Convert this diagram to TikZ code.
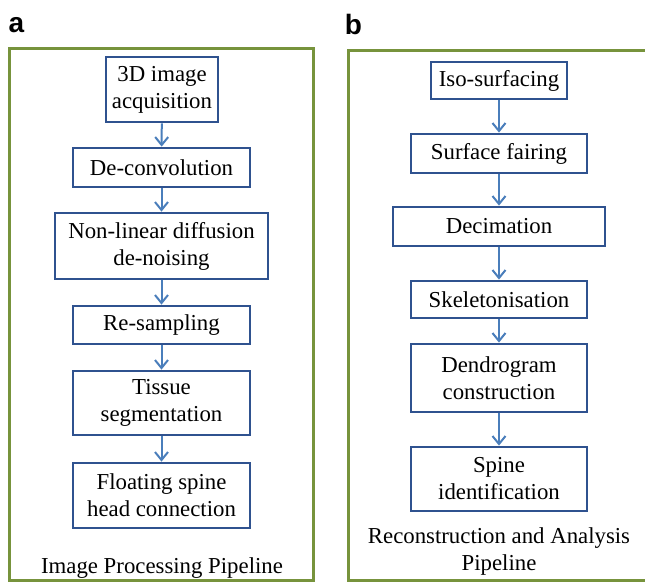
\documentclass[tikz,border=0pt]{standalone}
\usepackage{fontspec}
\setmainfont{Liberation Serif}
\newfontfamily\labfont{Liberation Sans}
\newfontfamily\serifbox{Liberation Serif}
\usetikzlibrary{arrows.meta}
\definecolor{framegreen}{HTML}{77933C}
\definecolor{boxblue}{HTML}{2F528F}
\definecolor{arrowblue}{HTML}{4A7EBB}
\tikzset{
  stepbox/.style={draw=boxblue, line width=2.8pt, align=center,
    inner sep=0pt, font=\serifbox\fontsize{22.8}{27}\selectfont},
  flow/.style={draw=arrowblue, line width=2pt, -{Straight Barb[length=8pt,width=13pt,line width=2pt]}},
  panelframe/.style={draw=framegreen, line width=3pt},
  caption/.style={align=center, inner sep=0pt, font=\serifbox\fontsize{22.8}{27}\selectfont},
  panellabel/.style={inner sep=0pt, font=\labfont\bfseries\fontsize{28}{30}\selectfont}
}
\begin{document}
\begin{tikzpicture}[x=1pt,y=-1pt]
\useasboundingbox (0,0) rectangle (645,581);
\fill[white] (0,0) rectangle (645,581);
\begin{scope}
\clip (0,0) rectangle (645,581);
\draw[panelframe] (9,48) rectangle (313,580);
\draw[panelframe] (348,50) rectangle (660,580);
\end{scope}
% panel labels
\node[panellabel] (la) at (16.5,25.5) {a};
\node[panellabel] (lb) at (353.5,24) {b};
% left pipeline
\node[stepbox, minimum width=112pt, minimum height=65pt] (a1) at (162,89.5) {3D image\\acquisition};
\node[stepbox, minimum width=177pt, minimum height=39pt] (a2) at (161.5,167.5) {De-convolution};
\node[stepbox, minimum width=213pt, minimum height=66pt] (a3) at (161.5,246) {Non-linear diffusion\\de-noising};
\node[stepbox, minimum width=177pt, minimum height=38pt] (a4) at (161.5,325) {Re-sampling};
\node[stepbox, minimum width=177pt, minimum height=64pt] (a5) at (161.5,403) {Tissue\\segmentation};
\node[stepbox, minimum width=177pt, minimum height=65pt] (a6) at (161.5,495.5) {Floating spine\\head connection};
\node[caption] (ca) at (162,568) {Image Processing Pipeline};
\draw[flow] (a1) -- (a2);
\draw[flow] (a2) -- (a3);
\draw[flow] (a3) -- (a4);
\draw[flow] (a4) -- (a5);
\draw[flow] (a5) -- (a6);
% right pipeline
\node[stepbox, minimum width=136pt, minimum height=37pt] (b1) at (499,80.5) {Iso-surfacing};
\node[stepbox, minimum width=176pt, minimum height=39pt] (b2) at (499,153.5) {Surface fairing};
\node[stepbox, minimum width=212pt, minimum height=39pt] (b3) at (499,226.5) {Decimation};
\node[stepbox, minimum width=176pt, minimum height=37pt] (b4) at (499,299.5) {Skeletonisation};
\node[stepbox, minimum width=176pt, minimum height=68pt] (b5) at (499,378) {Dendrogram\\construction};
\node[stepbox, minimum width=176pt, minimum height=64pt] (b6) at (499,479) {Spine\\identification};
\node[caption] (cb) at (499,551.5) {Reconstruction and Analysis\\Pipeline};
\draw[flow] (b1) -- (b2);
\draw[flow] (b2) -- (b3);
\draw[flow] (b3) -- (b4);
\draw[flow] (b4) -- (b5);
\draw[flow] (b5) -- (b6);
\end{tikzpicture}
\end{document}
